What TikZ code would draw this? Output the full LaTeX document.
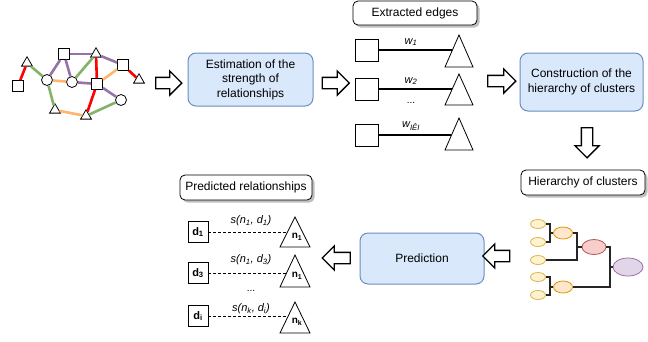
\documentclass[tikz,border=0pt]{standalone}
\usepackage{fontspec}
\setmainfont{Liberation Sans}
\usetikzlibrary{shapes.geometric,shapes.arrows,shadows}
\definecolor{bluefill}{HTML}{DAE8FC}
\definecolor{bluedraw}{HTML}{6C8EBF}
\definecolor{gred}{HTML}{FF0000}
\definecolor{ggreen}{HTML}{82B366}
\definecolor{gpurple}{HTML}{9673A6}
\definecolor{gorange}{HTML}{FFB570}
\definecolor{yfill}{HTML}{FFF2CC}\definecolor{ydraw}{HTML}{D6B656}
\definecolor{ofill}{HTML}{FFE6CC}\definecolor{odraw}{HTML}{D79B00}
\definecolor{rfill}{HTML}{F8CECC}\definecolor{rdraw}{HTML}{B85450}
\definecolor{pfill}{HTML}{E1D5E7}\definecolor{pdraw}{HTML}{9673A6}
\begin{document}
\begin{tikzpicture}[x=1pt,y=-1pt,font=\fontsize{12}{14.5}\selectfont,
 gsq/.style={draw,fill=white,minimum size=11pt,inner sep=0pt,line width=0.8pt},
 gci/.style={draw,fill=white,circle,minimum size=11pt,inner sep=0pt,line width=0.8pt},
 gtr/.style={draw,fill=white,regular polygon,regular polygon sides=3,minimum size=12.5pt,inner sep=0pt,line width=0.8pt},
 ge/.style={line width=2.6pt},
 procbox/.style={draw=bluedraw,fill=bluefill,rounded corners=8pt,line width=1pt,align=center,inner sep=0pt},
 labbox/.style={draw,fill=white,rounded corners=5pt,line width=0.8pt,inner sep=0pt,
   drop shadow={shadow xshift=2.5pt,shadow yshift=-2.5pt,opacity=0.25,fill=black}},
 hollow/.style={single arrow,draw,fill=white,line width=1.3pt,inner sep=5pt,minimum width=24pt,single arrow head extend=6.5pt},
 esq/.style={draw,fill=white,minimum width=23pt,minimum height=22pt,inner sep=0pt,line width=0.8pt},
 psq/.style={draw,fill=white,minimum width=20pt,minimum height=21pt,inner sep=0pt,line width=0.8pt,font=\fontsize{11}{12}\selectfont\bfseries},
 tri/.style={draw,fill=white,line width=0.8pt,line join=miter},
 wlab/.style={font=\fontsize{11}{12}\selectfont\itshape,inner sep=0pt},
 nlab/.style={font=\fontsize{10}{11}\selectfont\bfseries,inner sep=0pt},
 eline/.style={line width=1.4pt},
 pline/.style={line width=0.8pt,dash pattern=on 3pt off 2pt},
 leaf/.style={ellipse,draw=ydraw,fill=yfill,minimum width=15pt,minimum height=9pt,inner sep=0pt,line width=0.8pt},
 mid/.style={ellipse,draw=odraw,fill=ofill,minimum width=19pt,minimum height=12pt,inner sep=0pt,line width=0.8pt},
 dline/.style={line width=1.1pt,draw=black!85}
]
\useasboundingbox (0,0) rectangle (648,341);

% ---------- graph ----------
\node[gsq] (A) at (18,86) {};
\node[gtr] (B) at (27,63) {};
\node[gci] (C) at (47,80) {};
\node[gsq] (D) at (64,54) {};
\node[gci] (E) at (72,82) {};
\node[gtr] (F) at (96,54) {};
\node[gsq] (G) at (123,65) {};
\node[gtr] (H) at (139,80) {};
\node[gsq] (I) at (97,84) {};
\node[gci] (J) at (121,100) {};
\node[gtr] (K) at (55,110) {};
\node[gtr] (L) at (86,116) {};
\draw[ge,gred] (A) -- (B);
\draw[ge,ggreen] (B) -- (C);
\draw[ge,gpurple] (C) -- (D);
\draw[ge,gpurple] (D) -- (F);
\draw[ge,gpurple] (D) -- (E);
\draw[ge,gorange] (C) -- (E);
\draw[ge,ggreen] (E) -- (F);
\draw[ge,gred] (F) -- (I);
\draw[ge,gpurple] (F) -- (G);
\draw[ge,gorange] (G) -- (I);
\draw[ge,gred] (G) -- (H);
\draw[ge,gpurple] (E) -- (I);
\draw[ge,gpurple] (I) -- (J);
\draw[ge,gred] (I) -- (L);
\draw[ge,ggreen] (L) -- (J);
\draw[ge,ggreen] (C) -- (K);
\draw[ge,gorange] (K) -- (L);

% ---------- process boxes ----------
\node[procbox,minimum width=125pt,minimum height=53pt] (est) at (250.5,79.5) {Estimation of the\\strength of\\relationships};
\node[procbox,minimum width=123pt,minimum height=58pt] (cons) at (581.5,82) {Construction of the\\hierarchy of clusters};
\node[procbox,minimum width=124pt,minimum height=51pt] (pred) at (422,258.5) {Prediction};

% ---------- hollow arrows ----------
\node[hollow,minimum height=26pt] (a1) at (166,83) {};
\node[hollow,minimum height=27pt] (a2) at (333,83) {};
\node[hollow,minimum height=28pt] (a3) at (499,81) {};
\node[hollow,minimum height=30pt,shape border rotate=270] (a4) at (587,140) {};
\node[hollow,minimum height=27pt,shape border rotate=180] (a5) at (499,256) {};
\node[hollow,minimum height=28pt,shape border rotate=180] (a6) at (339,258) {};

% ---------- extracted edges ----------
\node[labbox,minimum width=124pt,minimum height=24pt] (exl) at (415,13) {Extracted edges};
\node[esq] (e1) at (366.5,50) {};
\node[esq] (e2) at (366.5,89) {};
\node[esq] (e3) at (366.5,135) {};
\coordinate (t1) at (452.4,50);
\coordinate (t2) at (452.2,89);
\coordinate (t3) at (451.1,135);
\draw[eline] (e1.east) -- (t1);
\draw[eline] (e2.east) -- (t2);
\draw[eline] (e3.east) -- (t3);
\draw[tri] (459,35) -- (473,67) -- (445,67) -- cycle;
\draw[tri] (459,74) -- (473,105) -- (445,105) -- cycle;
\draw[tri] (459,118) -- (473,150) -- (445,150) -- cycle;
\node[wlab] (w1) at (411,42) {w\textsubscript{1}};
\node[wlab] (w2) at (411,81) {w\textsubscript{2}};
\node[font=\fontsize{10}{11}\selectfont,inner sep=0pt] (dots1) at (411,103) {...};
\node[wlab] (w3) at (411,126) {w\textsubscript{IÊI}};

% ---------- hierarchy of clusters ----------
\node[labbox,minimum width=124pt,minimum height=25pt] (hcl) at (583,182.5) {Hierarchy of clusters};
\node[leaf] (L1) at (538,224) {};
\node[leaf] (L2) at (538,242) {};
\node[leaf] (L3) at (538,260) {};
\node[leaf] (L4) at (538,277) {};
\node[leaf] (L5) at (538,295) {};
\node[mid] (M1) at (563,233) {};
\node[mid] (M2) at (563,287) {};
\node[ellipse,draw=rdraw,fill=rfill,minimum width=24pt,minimum height=15pt,inner sep=0pt,line width=0.8pt] (R) at (594,247) {};
\node[ellipse,draw=pdraw,fill=pfill,minimum width=30pt,minimum height=18pt,inner sep=0pt,line width=0.8pt] (P) at (628,267) {};
\coordinate (j0) at (550,233);
\coordinate (j1) at (577,247);
\coordinate (j3) at (550,287);
\coordinate (j2) at (610,267);
\draw[dline] (L1.east) -| (j0);
\draw[dline] (L2.east) -| (j0);
\draw[dline] (j0) -- (M1.west);
\draw[dline] (L4.east) -| (j3);
\draw[dline] (L5.east) -| (j3);
\draw[dline] (j3) -- (M2.west);
\draw[dline] (M1.east) -| (j1);
\draw[dline] (L3.east) -| (j1);
\draw[dline] (j1) -- (R.west);
\draw[dline] (R.east) -| (j2);
\draw[dline] (M2.east) -| (j2);
\draw[dline] (j2) -- (P.west);

% ---------- predicted relationships ----------
\node[labbox,minimum width=132pt,minimum height=25pt] (prl) at (246,187.5) {Predicted relationships};
\node[psq] (p1) at (198,232) {d\textsubscript{1}};
\node[psq] (p2) at (198,273) {d\textsubscript{3}};
\node[psq] (p3) at (198,316) {d\textsubscript{i}};
\coordinate (q1) at (287.5,232);
\coordinate (q2) at (286.6,273);
\coordinate (q3) at (288.2,316);
\draw[pline] (p1.east) -- (q1);
\draw[pline] (p2.east) -- (q2);
\draw[pline] (p3.east) -- (q3);
\draw[tri] (295,217) -- (310,247) -- (280,247) -- cycle;
\draw[tri] (295,255) -- (310,287) -- (280,287) -- cycle;
\draw[tri] (295,302) -- (310,333) -- (280,333) -- cycle;
\node[nlab] (n1) at (297,237) {n\textsubscript{1}};
\node[nlab] (n2) at (297,276) {n\textsubscript{1}};
\node[nlab] (n3) at (297,322) {n\textsubscript{k}};
\node[wlab] (s1) at (251,221) {s(n\textsubscript{1}, d\textsubscript{1})};
\node[wlab] (s2) at (251,260) {s(n\textsubscript{1}, d\textsubscript{3})};
\node[font=\fontsize{10}{11}\selectfont,inner sep=0pt] (dots2) at (251,291) {...};
\node[wlab] (s3) at (251,309) {s(n\textsubscript{k}, d\textsubscript{i})};
\end{tikzpicture}
\end{document}
